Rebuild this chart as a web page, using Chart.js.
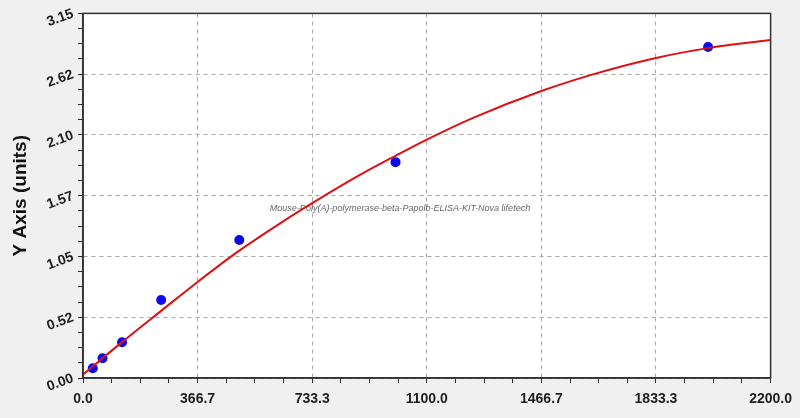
<!DOCTYPE html>
<html>
<head>
<meta charset="utf-8">
<title>Mouse Papolb ELISA standard curve</title>
<script src="https://cdn.jsdelivr.net/npm/chart.js@4.4.1/dist/chart.umd.min.js"></script>
<style>
  html, body { margin: 0; padding: 0; background: #f0f0f0; }
  #wrap { width: 800px; height: 418px; position: relative; }
</style>
</head>
<body>
<div id="wrap"><canvas id="chart"></canvas></div>
<script>
// standard points (concentration vs OD)
const stdConc = [31.25, 62.5, 125, 250, 500, 1000, 2000];
const stdOD   = [0.084, 0.170, 0.309, 0.674, 1.193, 1.865, 2.860];

// fitted curve
const curveConc = [0, 125, 250, 366.7, 500, 627, 733.3, 883, 1000, 1100, 1250, 1466.7, 1640, 1833.3, 2000, 2200];
const curveOD   = [0.03, 0.31, 0.58, 0.83, 1.10, 1.33, 1.51, 1.75, 1.92, 2.06, 2.25, 2.48, 2.63, 2.765, 2.85, 2.92];

const xTickLabels = ['0.0', '366.7', '733.3', '1100.0', '1466.7', '1833.3', '2200.0'];
const yTickLabels = ['0.00', '0.52', '1.05', '1.57', '2.10', '2.62', '3.15'];

const X_MAX = 2200, Y_MAX = 3.15;
const MINOR = 4; // minor intervals between major ticks
const watermark = 'Mouse-Poly(A)-polymerase-beta-Papolb-ELISA-KIT-Nova lifetech';

const FONT = 'Arial, "Liberation Sans", sans-serif';
const gridColor = (ctx) => (ctx.index % MINOR === 0 ? '#a8a8a8' : 'rgba(0,0,0,0)');

function evenTicks(max, n) {
  const t = [];
  for (let i = 0; i <= n; i++) t.push({ value: max * i / n });
  return t;
}

// white plot area on grey page, plus frame and watermark
const framePlugin = {
  id: 'frame',
  beforeDraw(chart) {
    const { ctx, chartArea: a } = chart;
    ctx.save();
    ctx.fillStyle = '#f0f0f0';
    ctx.fillRect(0, 0, chart.width, chart.height);
    ctx.fillStyle = '#ffffff';
    ctx.fillRect(a.left, a.top, a.right - a.left, a.bottom - a.top);
    ctx.restore();
  },
  beforeDatasetsDraw(chart) {
    const { ctx } = chart;
    ctx.save();
    ctx.font = 'italic 9px ' + FONT;
    ctx.fillStyle = '#666';
    ctx.textAlign = 'center';
    ctx.textBaseline = 'middle';
    ctx.fillText(watermark, 400, 208);
    ctx.restore();
  },
  afterDraw(chart) {
    const { ctx, chartArea: a } = chart;
    ctx.save();
    ctx.strokeStyle = '#303030';
    ctx.lineWidth = 1.5;
    ctx.strokeRect(a.left, a.top, a.right - a.left, a.bottom - a.top);
    ctx.restore();
  }
};

new Chart(document.getElementById('chart'), {
  type: 'scatter',
  data: {
    datasets: [
      {
        type: 'line',
        data: curveConc.map((x, i) => ({ x, y: curveOD[i] })),
        borderColor: '#e01010',
        borderWidth: 2,
        pointRadius: 0,
        cubicInterpolationMode: 'monotone',
        fill: false,
        order: 0,
      },
      {
        data: stdConc.map((x, i) => ({ x, y: stdOD[i] })),
        backgroundColor: '#0a0af0',
        borderWidth: 0,
        pointRadius: 5,
        order: 1,
      },
    ],
  },
  options: {
    responsive: true,
    maintainAspectRatio: false,
    animation: false,
    layout: { padding: { top: 13, right: 28, left: 0, bottom: 0 } },
    plugins: { legend: { display: false }, tooltip: { enabled: false } },
    scales: {
      x: {
        type: 'linear',
        min: 0, max: X_MAX,
        afterBuildTicks: (s) => { s.ticks = evenTicks(X_MAX, 6 * MINOR); },
        afterFit: (s) => { s.height = 40; },
        ticks: {
          autoSkip: false, maxRotation: 0, minRotation: 0,
          padding: 8,
          color: '#1e1e1e',
          font: { family: FONT, size: 14, weight: 'bold' },
          callback: (v, i) => (i % MINOR === 0 ? xTickLabels[i / MINOR] : ''),
        },
        grid: { color: gridColor, lineWidth: 1, tickLength: 5, tickColor: '#303030', tickWidth: 1 },
        border: { display: true, color: '#303030', width: 1.5, dash: [4, 4] },
      },
      y: {
        type: 'linear',
        min: 0, max: Y_MAX,
        afterBuildTicks: (s) => { s.ticks = evenTicks(Y_MAX, 6 * MINOR); },
        afterFit: (s) => { s.width = 83; },
        ticks: {
          autoSkip: false, minRotation: 20, maxRotation: 20,
          padding: 5,
          color: '#1e1e1e',
          font: { family: FONT, size: 14, weight: 'bold' },
          callback: (v, i) => (i % MINOR === 0 ? yTickLabels[i / MINOR] : ''),
        },
        grid: { color: gridColor, lineWidth: 1, tickLength: 5, tickColor: '#303030', tickWidth: 1 },
        border: { display: true, color: '#303030', width: 1.5, dash: [4, 4] },
        title: {
          display: true,
          text: 'Y Axis (units)',
          color: '#111',
          font: { family: FONT, size: 19, weight: 'bold' },
          padding: { top: 9, bottom: 0 },
        },
      },
    },
  },
  plugins: [framePlugin],
});
</script>
</body>
</html>
